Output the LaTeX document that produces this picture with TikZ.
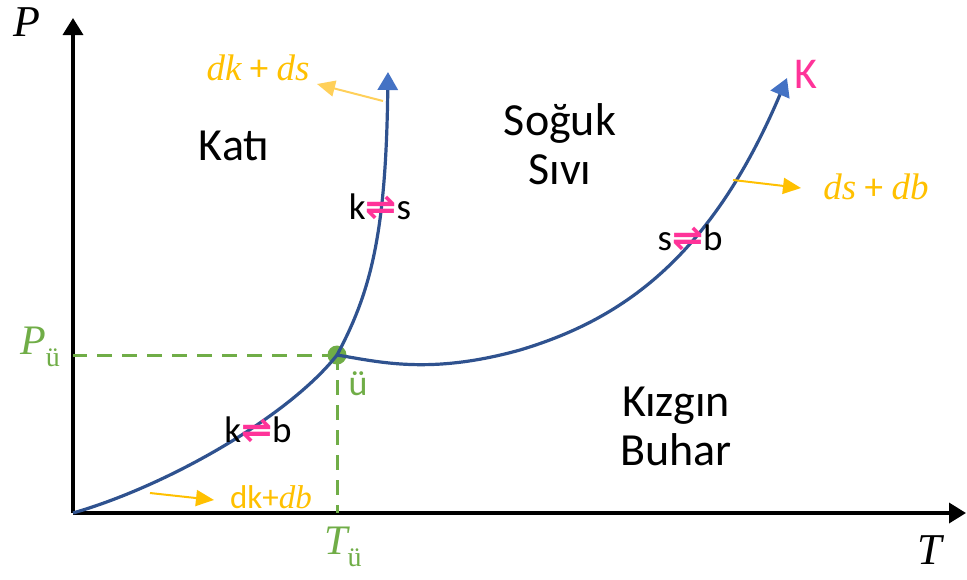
\documentclass[tikz,border=0pt]{standalone}
\usepackage{fontspec}
\setmainfont{Carlito}
\newfontfamily\serifvar{Liberation Serif}
\newfontfamily\symvar{DejaVu Sans}
\usetikzlibrary{arrows.meta}
\definecolor{curveblue}{RGB}{47,82,143}
\definecolor{tipblue}{RGB}{68,114,196}
\definecolor{tpgreen}{RGB}{112,173,71}
\definecolor{dorange}{RGB}{255,192,0}
\definecolor{lorange}{RGB}{255,208,90}
\definecolor{eqpink}{RGB}{255,51,153}
\newcommand{\eqharp}[2]{#1{\color{eqpink}\symvar\bfseries ⇌}#2}
\newcommand{\varit}[1]{{\serifvar\itshape #1}}
\newcommand{\subu}[1]{\varit{#1}\raisebox{-0.28em}{\serifvar\fontsize{28}{30}\selectfont ü}}
\begin{document}
\begin{tikzpicture}[x=1pt,y=-1pt,
	axis/.style={line width=3.5pt,-{Triangle[length=17pt,width=20pt]}},
	phase/.style={curveblue,line width=3.2pt},
	phasetip/.style={phase,-{Triangle[length=18pt,width=20pt,color=tipblue]}},
	region/.style={font=\fontsize{46}{49}\selectfont,align=center},
	eqlabel/.style={font=\fontsize{37}{40}\selectfont},
	change/.style={dorange,line width=2pt,-{Triangle[length=18pt,width=16pt]}},
	changelabel/.style={dorange,font=\fontsize{37}{40}\selectfont},
	tpline/.style={tpgreen,line width=3pt,dash pattern=on 15pt off 10pt},
	tplabel/.style={tpgreen,font=\fontsize{42}{44}\selectfont}]
	\useasboundingbox (0,0) rectangle (967,579);
	
	\coordinate (O) at (73,513);
	\coordinate (ytop) at (73,18);
	\coordinate (xend) at (966,513);
	\draw[axis] (O) -- (ytop);
	\draw[axis] (O) -- (xend);
	\node[font=\fontsize{44}{48}\selectfont] (P) at (27,22) {\varit{P}};
	\node[font=\fontsize{44}{48}\selectfont] (T) at (930,550) {\varit{T}};
	
	\node[circle,fill=tpgreen,minimum size=19pt,inner sep=0pt] (tp) at (337,355) {};
	\node[tplabel] (Pu) at (40,347) {\subu{P}};
	\node[tplabel] (Tu) at (343,547) {\subu{T}};
	\node[tpgreen,font=\fontsize{36}{40}\selectfont] (ulabel) at (358,384) {ü};
	\draw[tpline] (tp.center) -- (tp.center -| O);
	\draw[tpline] (tp.center) -- (tp.center |- O);
	
	\coordinate (fusetop) at (388,72);
	\coordinate (K) at (787,78);
	\draw[phase] (O) .. controls (170,485) and (290,415) .. (tp.center);
	\draw[phasetip] (tp.center) .. controls (372,290) and (386,230) .. (fusetop);
	\draw[phasetip] (tp.center) .. controls (380,362) and (430,375) .. (520,350)
		.. controls (620,320) and (710,260) .. (K);
	\node[eqpink,font=\fontsize{44}{48}\selectfont] (Klabel) at (806,74) {K};
	
	\node[region] (kati) at (234,146) {Katı};
	\node[region] (sivi) at (560,144) {Soğuk\\Sıvı};
	\node[region] (buhar) at (676,426) {Kızgın\\Buhar};
	
	\node[eqlabel] (ks) at (380,207) {\eqharp{k}{s}};
	\node[eqlabel] (sb) at (690,238) {\eqharp{s}{b}};
	\node[eqlabel] (kb) at (258,430) {\eqharp{k}{b}};
	
	\coordinate (c1) at (383,101);
	\coordinate (c1tip) at (317,84);
	\node[changelabel] (dkds) at (258,68) {\varit{dk} + \varit{ds}};
	\draw[change,lorange] (c1) -- (c1tip);
	\coordinate (c2) at (733,180);
	\coordinate (c2tip) at (801,188);
	\node[changelabel] (dsdb) at (876,187) {\varit{ds} + \varit{db}};
	\draw[change] (c2) -- (c2tip);
	\coordinate (c3) at (150,493);
	\coordinate (c3tip) at (214,500);
	\node[changelabel,font=\fontsize{33}{36}\selectfont] (dkdb) at (271,497) {dk+\varit{db}};
	\draw[change] (c3) -- (c3tip);
\end{tikzpicture}
\end{document}
